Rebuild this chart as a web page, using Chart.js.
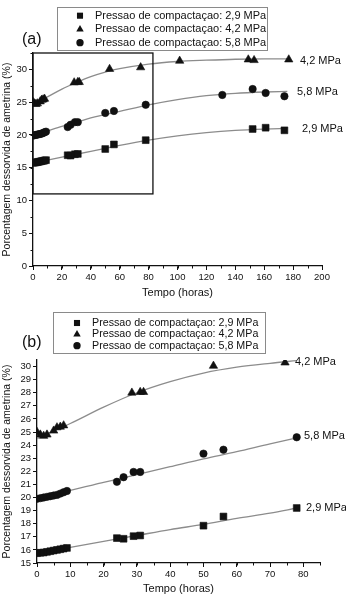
<!DOCTYPE html>
<html>
<head>
<meta charset="utf-8">
<script src="https://cdn.jsdelivr.net/npm/chart.js@4.4.1/dist/chart.umd.min.js"></script>
<style>
  html, body { margin: 0; padding: 0; background: #fff; }
  body { width: 346px; height: 598px; position: relative; overflow: hidden; }
  canvas { position: absolute; left: 0; display: block; }
  #chartA { top: 0; }
  #chartB { top: 300px; }
</style>
</head>
<body>
<canvas id="chartA" width="346" height="300"></canvas>
<canvas id="chartB" width="346" height="298"></canvas>
<script>
"use strict";

const FONT = "'Liberation Sans', Arial, sans-serif";

// pressures and legend text
const PRESSURES = ["2,9 MPa", "4,2 MPa", "5,8 MPa"];
const LEGEND_TEXT = PRESSURES.map(p => `Pressao de compactaçao: ${p}`);

// measured points (shared by both panels)
const timeSq = [0, 1, 2, 3, 4, 5, 6, 7, 8, 9, 24, 26, 29, 31, 50, 56, 78, 152, 161, 174];
const valSq = [15.75, 15.78, 15.8, 15.85, 15.9, 15.95, 16.0, 16.05, 16.1, 16.15, 16.9, 16.85, 17.05, 17.1, 17.85, 18.55, 19.2, 20.9, 21.1, 20.7];

const timeTr = [0, 1, 2, 3, 5, 6, 7, 8, 28.5, 31, 32, 53, 74.5, 101.5, 149, 153, 177];
const valTr = [25.0, 24.8, 24.7, 24.8, 25.1, 25.35, 25.4, 25.5, 28.0, 28.05, 28.05, 30.05, 30.3, 31.3, 31.5, 31.4, 31.5];

const timeCi = [0, 1, 2, 3, 4, 5, 6, 7, 8, 9, 24, 26, 29, 31, 50, 56, 78, 131, 152, 161, 174];
const valCi = [19.9, 19.95, 20.0, 20.05, 20.1, 20.15, 20.2, 20.3, 20.4, 20.5, 21.2, 21.55, 21.95, 21.95, 23.35, 23.65, 24.6, 26.1, 27.0, 26.4, 25.9];

// fitted curves, panel (a)
const curveTimeA = [0, 10, 20, 30, 40, 50, 60, 80, 100, 120, 140, 160, 176];
const curve29A = [15.7, 16.15, 16.6, 17.05, 17.5, 17.95, 18.4, 19.2, 19.85, 20.35, 20.7, 20.9, 21.0];
const curve42A = [24.7, 25.8, 27.0, 28.0, 28.9, 29.6, 30.1, 30.8, 31.2, 31.4, 31.55, 31.6, 31.6];
const curve58A = [19.9, 20.6, 21.3, 21.9, 22.6, 23.1, 23.6, 24.6, 25.4, 26.0, 26.35, 26.55, 26.65];

// fitted curves, panel (b)
const curveTimeB = [0, 10, 20, 30, 40, 50, 60, 70, 78];
const curve29B = [15.75, 16.2, 16.65, 17.1, 17.55, 17.95, 18.4, 18.8, 19.2];
const curve42B = [24.5, 25.65, 26.9, 28.0, 28.85, 29.5, 29.95, 30.25, 30.45];
const curve58B = [19.9, 20.55, 21.15, 21.75, 22.35, 22.95, 23.5, 24.1, 24.55];

// tick labels
const xTicksA = [0, 20, 40, 60, 80, 100, 120, 140, 160, 180, 200];
const yTicksA = [0, 5, 10, 15, 20, 25, 30];
const xTicksB = [0, 10, 20, 30, 40, 50, 60, 70, 80];
const yTicksB = [15, 16, 17, 18, 19, 20, 21, 22, 23, 24, 25, 26, 27, 28, 29, 30];

// inset box in panel (a) marks the range shown in (b)
const insetX = [0, 83];
const insetYmin = 11;

const toXY = (xs, ys, maxX) => xs
  .map((x, i) => ({ x, y: ys[i] }))
  .filter(p => p.x <= maxX);

function drawMarker(ctx, style, x, y, r) {
  ctx.beginPath();
  if (style === "rect") {
    const s = r * Math.SQRT1_2;
    ctx.rect(x - s, y - s, 2 * s, 2 * s);
  } else if (style === "triangle") {
    ctx.moveTo(x, y - r);
    ctx.lineTo(x + r * 0.866, y + r * 0.5);
    ctx.lineTo(x - r * 0.866, y + r * 0.5);
    ctx.closePath();
  } else {
    ctx.arc(x, y, r * 0.85, 0, Math.PI * 2);
  }
  ctx.fill();
}

const minorTicks = {
  id: "minorTicks",
  afterDraw(chart, args, opts) {
    const { ctx, chartArea, scales: { x, y } } = chart;
    ctx.save();
    ctx.strokeStyle = "#111";
    ctx.lineWidth = 1;
    ctx.beginPath();
    if (opts.x) {
      for (let v = x.min; v <= x.max + 1e-6; v += opts.x) {
        const px = Math.round(x.getPixelForValue(v)) + 0.5;
        ctx.moveTo(px, chartArea.bottom);
        ctx.lineTo(px, chartArea.bottom + 2.5);
      }
    }
    if (opts.y) {
      for (let v = y.min; v <= y.max + 1e-6; v += opts.y) {
        const py = Math.round(y.getPixelForValue(v)) + 0.5;
        ctx.moveTo(chartArea.left, py);
        ctx.lineTo(chartArea.left - 2.5, py);
      }
    }
    ctx.stroke();
    ctx.restore();
  }
};

const panelDecor = {
  id: "panelDecor",
  afterDraw(chart, args, opts) {
    const { ctx, scales: { x, y } } = chart;
    ctx.save();

    if (opts.inset) {
      const x0 = x.getPixelForValue(insetX[0]);
      const x1 = x.getPixelForValue(insetX[1]);
      const y0 = y.getPixelForValue(insetYmin);
      const y1 = y.getPixelForValue(y.max);
      ctx.strokeStyle = "#111";
      ctx.lineWidth = 1.3;
      ctx.strokeRect(x0, y1, x1 - x0, y0 - y1);
    }

    ctx.fillStyle = "#111";
    ctx.textBaseline = "middle";
    ctx.textAlign = "left";
    ctx.font = `16px ${FONT}`;
    ctx.fillText(opts.tag, opts.tagX, opts.tagY);

    const [bx, by, bw, bh] = opts.box;
    ctx.fillStyle = "#fff";
    ctx.fillRect(bx, by, bw, bh);
    ctx.strokeStyle = "#8a8a8a";
    ctx.lineWidth = 1;
    ctx.strokeRect(bx + 0.5, by + 0.5, bw, bh);

    const styles = ["rect", "triangle", "circle"];
    ctx.font = `${opts.legendFont}px ${FONT}`;
    opts.rows.forEach((ry, i) => {
      ctx.fillStyle = "#111";
      drawMarker(ctx, styles[i], opts.markerX, ry, 4.3);
      ctx.fillStyle = "#111";
      ctx.fillText(LEGEND_TEXT[i], opts.textX, ry);
    });

    ctx.font = `11px ${FONT}`;
    ctx.fillStyle = "#111";
    opts.labels.forEach(l => ctx.fillText(PRESSURES[l.i], l.x, l.y));

    ctx.restore();
  }
};

function buildChart(id, p) {
  const pointSet = (xs, ys, style, r) => ({
    data: toXY(xs, ys, p.xMax),
    pointStyle: style,
    pointRadius: r,
    pointBackgroundColor: "#111",
    pointBorderColor: "#111",
    pointBorderWidth: 0.6,
    showLine: false,
    order: 1
  });
  const curveSet = (xs, ys) => ({
    data: toXY(xs, ys, p.xMax),
    showLine: true,
    borderColor: "#8c8c8c",
    borderWidth: 1.3,
    pointRadius: 0,
    cubicInterpolationMode: "monotone",
    order: 2
  });

  return new Chart(document.getElementById(id), {
    type: "scatter",
    data: {
      datasets: [
        pointSet(timeSq, valSq, "rect", 4.8),
        pointSet(timeTr, valTr, "triangle", 4.8),
        pointSet(timeCi, valCi, "circle", 3.7),
        curveSet(p.curveTime, p.curve29),
        curveSet(p.curveTime, p.curve42),
        curveSet(p.curveTime, p.curve58)
      ]
    },
    options: {
      responsive: false,
      animation: false,
      devicePixelRatio: 1,
      layout: { padding: p.padding },
      plugins: {
        legend: { display: false },
        tooltip: { enabled: false },
        minorTicks: p.minor,
        panelDecor: p.decor
      },
      scales: {
        x: {
          type: "linear",
          min: 0,
          max: p.xMax,
          grid: { drawOnChartArea: false, drawTicks: true, tickLength: 4, tickColor: "#111" },
          border: { display: true, color: "#111", width: 1.3 },
          ticks: { font: { family: FONT, size: 9.5 }, color: "#111", padding: 2, maxRotation: 0, autoSkip: false },
          afterBuildTicks: s => { s.ticks = p.xTicks.map(v => ({ value: v })); },
          afterFit: s => { s.height = p.xHeight; },
          title: {
            display: true,
            text: "Tempo (horas)",
            color: "#111",
            font: { family: FONT, size: 11 },
            padding: { top: 0, bottom: p.xTitlePad }
          }
        },
        y: {
          type: "linear",
          min: p.yMin,
          max: p.yMax,
          grid: { drawOnChartArea: false, drawTicks: true, tickLength: 4, tickColor: "#111" },
          border: { display: true, color: "#111", width: 1.3 },
          ticks: { font: { family: FONT, size: 9.5 }, color: "#111", padding: 2, autoSkip: false },
          afterBuildTicks: s => { s.ticks = p.yTicks.map(v => ({ value: v })); },
          afterFit: s => { s.width = p.yWidth; },
          title: {
            display: true,
            text: "Porcentagem dessorvida de ametrina (%)",
            color: "#111",
            font: { family: FONT, size: 10.5 },
            padding: { top: 1, bottom: 0 }
          }
        }
      }
    },
    plugins: [minorTicks, panelDecor]
  });
}

buildChart("chartA", {
  xMax: 200, yMin: 0, yMax: 32.5,
  xTicks: xTicksA, yTicks: yTicksA,
  curveTime: curveTimeA, curve29: curve29A, curve42: curve42A, curve58: curve58A,
  padding: { top: 53, right: 24, left: 0, bottom: 0 },
  xHeight: 34, yWidth: 33, xTitlePad: 0,
  minor: { x: 10, y: 2.5 },
  decor: {
    inset: true,
    tag: "(a)", tagX: 22, tagY: 40,
    box: [57, 7, 210, 43], markerX: 80, textX: 95, rows: [15.7, 29.3, 42.7], legendFont: 11,
    labels: [{ i: 1, x: 300, y: 61 }, { i: 2, x: 297, y: 92 }, { i: 0, x: 302, y: 129 }]
  }
});

buildChart("chartB", {
  xMax: 85, yMin: 15, yMax: 30.5,
  xTicks: xTicksB, yTicks: yTicksB,
  curveTime: curveTimeB, curve29: curve29B, curve42: curve42B, curve58: curve58B,
  padding: { top: 60, right: 26, left: 0, bottom: 0 },
  xHeight: 35, yWidth: 37, xTitlePad: 2,
  minor: { x: 5, y: 0 },
  decor: {
    inset: false,
    tag: "(b)", tagX: 22, tagY: 43,
    box: [53, 12, 212, 41], markerX: 77, textX: 92, rows: [23, 34.3, 45.7], legendFont: 10.7,
    labels: [{ i: 1, x: 295, y: 62 }, { i: 2, x: 304, y: 136 }, { i: 0, x: 306, y: 208 }]
  }
});
</script>
</body>
</html>
